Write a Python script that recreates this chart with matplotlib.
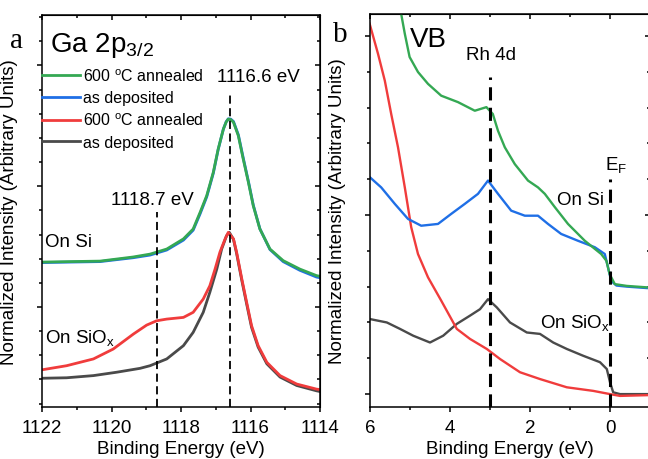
import matplotlib
matplotlib.use('Agg')
import matplotlib.pyplot as plt
from matplotlib.ticker import MultipleLocator

plt.rcParams['font.family'] = ['Liberation Sans', 'DejaVu Sans']
plt.rcParams['mathtext.fontset'] = 'custom'
plt.rcParams['mathtext.rm'] = 'Liberation Sans'
plt.rcParams['mathtext.it'] = 'Liberation Sans:italic'

# colores de las curvas
c_green = '#34a853'
c_blue = '#1f6fe6'
c_red = '#f03c3c'
c_gray = '#4a4a4a'

# ---- Panel a: Ga 2p3/2 ----
a_energy_si = [1122.00, 1121.19, 1120.33, 1119.38, 1118.89, 1118.41, 1117.93, 1117.65,
               1117.45, 1117.26, 1117.07, 1116.93, 1116.78, 1116.70, 1116.64, 1116.57,
               1116.49, 1116.35, 1116.21, 1116.06, 1115.92, 1115.73, 1115.44, 1115.06,
               1114.58, 1114.10, 1114.00]
a_si_annealed = [1.86, 1.88, 1.90, 2.07, 2.19, 2.40, 2.82, 3.23,
                 3.92, 4.61, 5.58, 6.54, 7.37, 7.66, 7.78, 7.76,
                 7.65, 7.09, 6.13, 5.16, 4.19, 3.23, 2.40, 1.92,
                 1.57, 1.30, 1.27]
a_si_deposited = [1.84, 1.86, 1.88, 2.04, 2.15, 2.36, 2.77, 3.18,
                  3.86, 4.56, 5.54, 6.52, 7.37, 7.67, 7.79, 7.78,
                  7.68, 7.13, 6.18, 5.20, 4.22, 3.24, 2.38, 1.88,
                  1.52, 1.24, 1.21]

a_energy_siox_ann = [1122.00, 1121.29, 1120.52, 1119.95, 1119.37, 1118.99, 1118.70, 1118.41,
                     1117.93, 1117.65, 1117.36, 1117.17, 1117.02, 1116.88, 1116.73, 1116.64,
                     1116.49, 1116.40, 1116.25, 1116.11, 1115.97, 1115.78, 1115.53, 1115.15,
                     1114.67, 1114.10, 1114.00]
a_siox_annealed = [-2.60, -2.43, -2.15, -1.74, -1.12, -0.75, -0.57, -0.50,
                   -0.43, -0.22, 0.33, 0.88, 1.57, 2.27, 2.82, 3.09,
                   2.82, 2.27, 1.16, 0.19, -0.77, -1.60, -2.29, -2.84,
                   -3.19, -3.40, -3.42]

a_energy_siox_dep = [1122.00, 1121.29, 1120.52, 1119.85, 1119.18, 1118.89, 1118.41, 1117.93,
                     1117.65, 1117.36, 1117.17, 1116.97, 1116.83, 1116.69, 1116.61, 1116.49,
                     1116.40, 1116.25, 1116.11, 1115.97, 1115.78, 1115.53, 1115.15, 1114.67,
                     1114.10, 1114.00]
a_siox_deposited = [-2.95, -2.93, -2.84, -2.70, -2.54, -2.43, -2.15, -1.60,
                    -1.05, -0.22, 0.61, 1.57, 2.40, 2.95, 3.09, 2.80,
                    2.22, 1.10, 0.12, -0.84, -1.66, -2.35, -2.90, -3.25,
                    -3.47, -3.50]

a_peaks = [1118.7, 1116.6]
a_peak_tops = [3.93, 8.90]
a_xticks = [1122, 1120, 1118, 1116, 1114]

# ---- Panel b: banda de valencia ----
b_energy_si_ann = [5.30, 5.22, 5.13, 5.01, 4.80, 4.55, 4.22, 3.80, 3.38, 3.09, 2.93, 2.80,
                   2.63, 2.38, 2.05, 1.80, 1.63, 1.38, 1.05, 0.63, 0.22, 0.09, 0.01,
                   -0.12, -0.42, -0.92]
b_si_annealed = [11.20, 10.61, 10.06, 9.41, 8.99, 8.66, 8.33, 8.15, 7.91, 8.01, 7.82, 7.35,
                 6.89, 6.42, 5.96, 5.77, 5.59, 5.22, 4.75, 4.28, 3.91, 3.72, 3.35,
                 3.07, 3.02, 2.98]

b_energy_si_dep = [6.05, 5.72, 5.38, 5.05, 4.72, 4.30, 3.97, 3.63, 3.30, 3.05, 2.80, 2.47,
                   2.13, 1.80, 1.55, 1.22, 0.80, 0.38, 0.13, 0.05, -0.03, -0.16, -0.42,
                   -0.92]
b_si_deposited = [6.10, 5.77, 5.31, 4.89, 4.70, 4.75, 5.03, 5.31, 5.59, 5.96, 5.59, 5.12,
                  4.98, 4.98, 4.75, 4.47, 4.28, 4.10, 3.91, 3.54, 3.16, 3.03, 3.00,
                  2.96]

b_energy_siox_ann = [6.01, 5.80, 5.63, 5.47, 5.30, 5.13, 4.97, 4.80, 4.55, 4.22, 3.83, 3.50,
                     3.08, 2.75, 2.25, 1.75, 1.08, 0.42, 0.00, -0.25, -0.92]
b_siox_annealed = [10.34, 9.50, 8.75, 7.82, 6.89, 5.77, 4.66, 3.91, 3.26, 2.61, 1.82, 1.54,
                   1.26, 0.98, 0.61, 0.42, 0.19, 0.09, 0.00, -0.05, -0.03]

b_energy_siox_dep = [5.98, 5.58, 5.25, 4.92, 4.50, 4.17, 3.83, 3.50, 3.25, 3.05, 2.83, 2.50,
                     2.08, 1.75, 1.42, 1.08, 0.67, 0.25, 0.08, 0.00, -0.08, -0.25, -0.92]
b_siox_deposited = [2.09, 2.00, 1.82, 1.63, 1.44, 1.63, 1.96, 2.19, 2.37, 2.65, 2.42, 2.00,
                    1.72, 1.68, 1.44, 1.26, 1.07, 0.89, 0.70, 0.33, 0.05, 0.00, 0.00]

b_lines = [3.0, 0.0]
b_line_tops = [8.85, 6.0]
b_xticks = [6, 4, 2, 0]

legend_labels = ['600 $^\\mathrm{o}$C annealed', 'as deposited',
                 '600 $^\\mathrm{o}$C annealed', 'as deposited']

W, H = 648, 460
fig = plt.figure(figsize=(W / 100, H / 100), dpi=100)
ax1 = fig.add_axes([42 / W, 52 / H, 278 / W, 392 / H])
ax2 = fig.add_axes([370 / W, 52 / H, 280 / W, 393 / H])


def estilo(ax, xmajor, xminor):
    for s in ax.spines.values():
        s.set_linewidth(1.1)
    ax.xaxis.set_major_locator(xmajor)
    ax.xaxis.set_minor_locator(xminor)
    ax.yaxis.set_major_locator(MultipleLocator(5))
    ax.yaxis.set_minor_locator(MultipleLocator(1))
    ax.tick_params(which='major', direction='out', length=3.5, width=1.1,
                   labelsize=13.5, pad=5)
    ax.tick_params(which='minor', direction='out', length=2, width=1.1)
    ax.tick_params(axis='y', labelleft=False)
    top = ax.secondary_xaxis('top')
    top.xaxis.set_major_locator(xmajor)
    top.xaxis.set_minor_locator(xminor)
    top.tick_params(which='both', direction='in', labeltop=False, width=1.1)
    top.tick_params(which='major', length=3.5)
    top.tick_params(which='minor', length=2)
    right = ax.secondary_yaxis('right')
    right.yaxis.set_major_locator(MultipleLocator(5))
    right.yaxis.set_minor_locator(MultipleLocator(1))
    right.tick_params(which='both', direction='in', labelright=False, width=1.1)
    right.tick_params(which='major', length=3.5)
    right.tick_params(which='minor', length=2)
    ax.set_xlabel('Binding Energy (eV)', fontsize=13.5, labelpad=3)
    ax.set_ylabel('Normalized Intensity (Arbitrary Units)', fontsize=13.5)


# Panel a
l_gray, = ax1.plot(a_energy_siox_dep, a_siox_deposited, color=c_gray, lw=2)
l_red, = ax1.plot(a_energy_siox_ann, a_siox_annealed, color=c_red, lw=2)
l_blue, = ax1.plot(a_energy_si, a_si_deposited, color=c_blue, lw=2)
l_green, = ax1.plot(a_energy_si, a_si_annealed, color=c_green, lw=2)
for e, top in zip(a_peaks, a_peak_tops):
    ax1.plot([e, e], [-4.14, top], color='black', lw=1.3, dashes=(4.5, 2.5))
ax1.set_xlim(1122, 1114)
ax1.set_ylim(-4.14, 12.09)
estilo(ax1, MultipleLocator(2), MultipleLocator(1))
ax1.set_xticks(a_xticks)
ax1.yaxis.set_label_coords(-23.5 / 278, 0.5)

ax1.text(1121.77, 10.6, 'Ga 2p$_\\mathrm{3/2}$', fontsize=20)
ax1.text(1115.78, 9.36, '1116.6 eV', fontsize=13.5, ha='center')
ax1.text(1118.81, 4.27, '1118.7 eV', fontsize=13.5, ha='center')
ax1.text(1121.91, 2.53, 'On Si', fontsize=13.5)
ax1.text(1121.91, -1.45, 'On SiO$_\\mathrm{x}$', fontsize=13.5)
ax1.legend([l_green, l_blue, l_red, l_gray], legend_labels, loc='upper left',
           bbox_to_anchor=(0.0, 0.867), frameon=False, fontsize=11.5,
           handlelength=2.4, handletextpad=0.15, labelspacing=0.4,
           borderpad=0, borderaxespad=0)

# Panel b
ax2.plot(b_energy_siox_dep, b_siox_deposited, color=c_gray, lw=1.7)
ax2.plot(b_energy_siox_ann, b_siox_annealed, color=c_red, lw=1.7)
ax2.plot(b_energy_si_dep, b_si_deposited, color=c_blue, lw=1.7)
ax2.plot(b_energy_si_ann, b_si_annealed, color=c_green, lw=1.7)
for e, top in zip(b_lines, b_line_tops):
    ax2.plot([e, e], [-0.36, top], color='black', lw=2.2, dashes=(4.3, 2.4))
ax2.set_xlim(6, -1)
ax2.set_ylim(-0.36, 10.61)
estilo(ax2, MultipleLocator(2), MultipleLocator(1))
ax2.set_xticks(b_xticks)
ax2.yaxis.set_label_coords(-23.5 / 280, 0.5)

ax2.text(5.0, 9.72, 'VB', fontsize=20)
ax2.text(2.98, 9.36, 'Rh 4d', fontsize=13.5, ha='center')
ax2.text(0.12, 6.28, 'E$_\\mathrm{F}$', fontsize=13.5)
ax2.text(1.33, 5.31, 'On Si', fontsize=13.5)
ax2.text(1.75, 1.87, 'On SiO$_\\mathrm{x}$', fontsize=13.5)

fig.text(10 / W, 1 - 48 / H, 'a', family='Liberation Serif', fontsize=21)
fig.text(333 / W, 1 - 42 / H, 'b', family='Liberation Serif', fontsize=21)

fig.savefig('out.png', dpi=100)
